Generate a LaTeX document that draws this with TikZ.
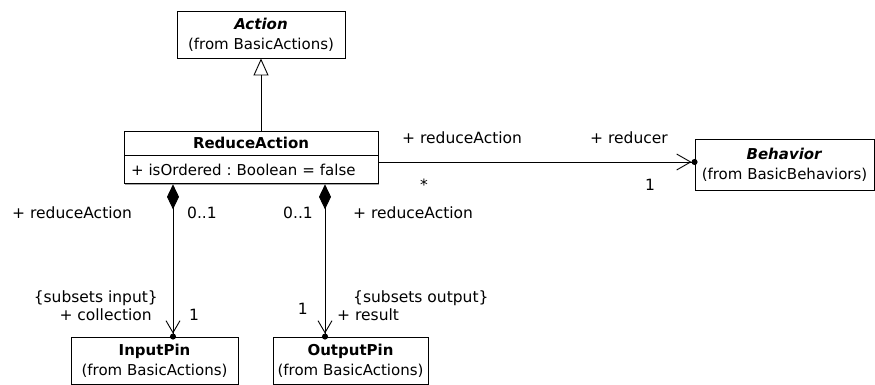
\documentclass[tikz,border=0pt]{standalone}
\usepackage{fontspec}
\setmainfont{DejaVu Sans}
\frenchspacing
\usetikzlibrary{arrows.meta, positioning, shadows}

\tikzset{
  umlclass/.style={draw, fill=white, line width=0.9pt, align=center, inner sep=2pt,
    font=\fontsize{15}{20}\selectfont,
    drop shadow={shadow xshift=1.2pt, shadow yshift=-1.2pt, fill=black!35, opacity=1}},
  umllabel/.style={font=\fontsize{15.5}{18}\selectfont, inner sep=0pt},
  generalize/.style={line width=0.9pt, -{Triangle[open, length=17pt, width=15pt, fill=white]}},
  navigable/.style={line width=0.9pt, shorten >=-3pt,
    -{Straight Barb[length=14pt, width=16pt] Circle[length=6pt]}},
  composite/.style={line width=0.9pt, shorten >=-3pt,
    {Diamond[length=25pt, width=12pt]}-{Straight Barb[length=12pt, width=14pt] Circle[length=6pt]}}
}

\begin{document}
\begin{tikzpicture}[x=1pt, y=-1pt]
  \useasboundingbox (0,0) rectangle (875,385);
  % classes
  \node[umlclass, minimum width=168pt, minimum height=47pt] (action) at (261,34.5)
    {\textbf{\textit{Action}}\\(from BasicActions)};
  \node[umlclass, minimum width=254pt, minimum height=24pt] (reduce) at (251,143)
    {\textbf{ReduceAction}};
  \node[umlclass, minimum width=254pt, minimum height=28pt, anchor=north,
    align=left, text width=240pt] (reduceattr) at (reduce.south)
    {+ isOrdered : Boolean = false};
  \node[umlclass, minimum width=179pt, minimum height=51pt] (behavior) at (784.5,164.5)
    {\textbf{\textit{Behavior}}\\(from BasicBehaviors)};
  \node[umlclass, minimum width=167pt, minimum height=47pt] (inpin) at (154.5,360.5)
    {\textbf{InputPin}\\(from BasicActions)};
  \node[umlclass, minimum width=155pt, minimum height=47pt] (outpin) at (350.5,360.5)
    {\textbf{OutputPin}\\(from BasicActions)};
  % relations
  \draw[generalize] (reduce.north -| action.south) -- (action.south);
  \draw[navigable] (reduceattr.east |- 0,162) -- (behavior.west |- 0,162);
  \draw[composite] (reduceattr.south -| 173,0) -- (inpin.north -| 173,0);
  \draw[composite] (reduceattr.south -| 325,0) -- (outpin.north -| 325,0);
  % association ends
  \node[umllabel, anchor=base west] (assocsrc) at (402,143) {+ reduceAction};
  \node[umllabel, anchor=base east] (assoctgt) at (668,143) {+ reducer};
  \node[umllabel, anchor=base] (assocsrcmult) at (424,190) {*};
  \node[umllabel, anchor=base west] (assoctgtmult) at (645,190) {1};
  \node[umllabel, anchor=base west] (inownerrole) at (12,218) {+ reduceAction};
  \node[umllabel, anchor=base west] (inownermult) at (187,218) {0..1};
  \node[umllabel, anchor=base east] (outownermult) at (313,218) {0..1};
  \node[umllabel, anchor=base west] (outownerrole) at (353,218) {+ reduceAction};
  \node[umllabel, anchor=base east] (insubsets) at (158,302) {\{subsets input\}};
  \node[umllabel, anchor=base east] (inrole) at (152,320) {+ collection};
  \node[umllabel, anchor=base west] (inmult) at (189,320) {1};
  \node[umllabel, anchor=base east] (outmult) at (308,314) {1};
  \node[umllabel, anchor=base west] (outsubsets) at (353,302) {\{subsets output\}};
  \node[umllabel, anchor=base west] (outrole) at (337,320) {+ result};
\end{tikzpicture}
\end{document}
